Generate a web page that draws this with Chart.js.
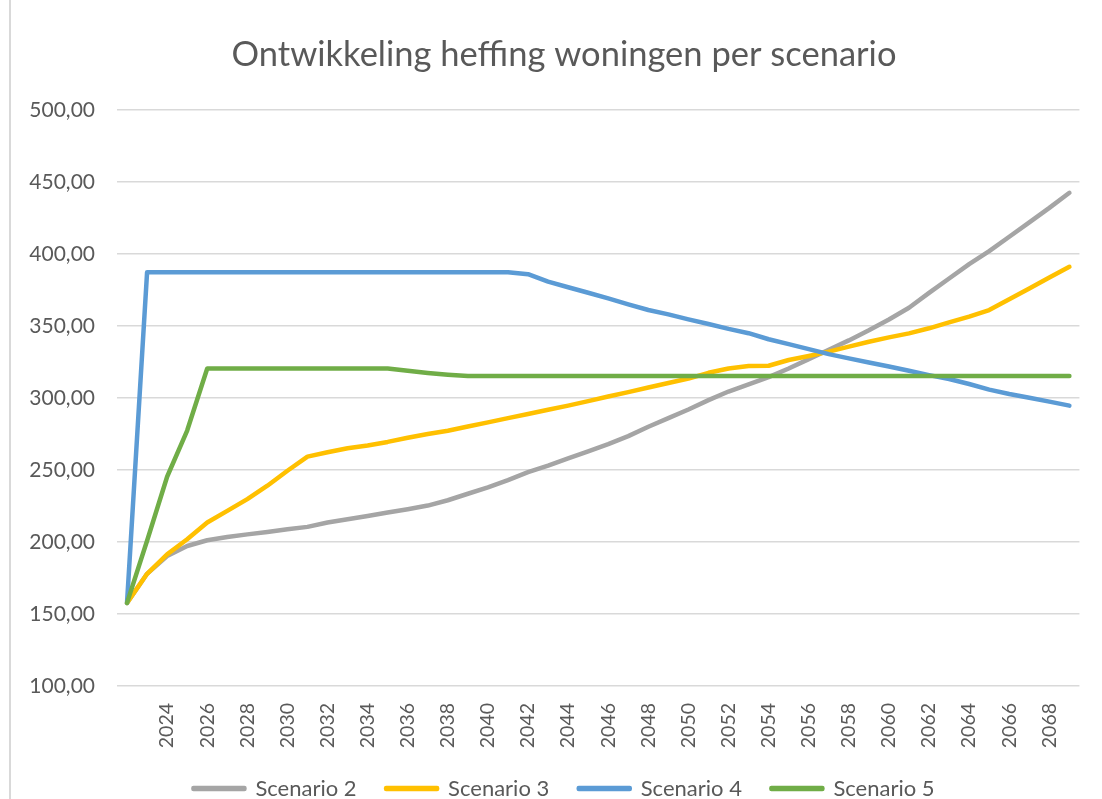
<!DOCTYPE html>
<html>
<head>
<meta charset="utf-8">
<title>Ontwikkeling heffing woningen per scenario</title>
<script src="https://cdn.jsdelivr.net/npm/chart.js"></script>
<style>
    html, body { margin: 0; padding: 0; background: #fff; }
    #wrap { position: relative; width: 1102px; height: 799px; }
    #rand { position: absolute; left: 9px; top: 0; width: 2px; height: 799px; background: #d9d9d9; }
</style>
</head>
<body>
<div id="wrap">
    <div id="rand"></div>
    <canvas id="grafiek"></canvas>
</div>
<script>
// Jaren op de x-as
const jaren = [2022, 2023, 2024, 2025, 2026, 2027, 2028, 2029, 2030, 2031, 2032, 2033,
    2034, 2035, 2036, 2037, 2038, 2039, 2040, 2041, 2042, 2043, 2044, 2045,
    2046, 2047, 2048, 2049, 2050, 2051, 2052, 2053, 2054, 2055, 2056, 2057,
    2058, 2059, 2060, 2061, 2062, 2063, 2064, 2065, 2066, 2067, 2068, 2069];

// Heffing per scenario
const scenario2 = [157.7, 177.9, 190.2, 197.2, 201.2, 203.5, 205.3, 207.0, 208.8, 210.5, 213.5, 215.8,
    218.1, 220.5, 222.8, 225.3, 229.0, 233.5, 238.0, 243.0, 248.5, 253.0, 258.0, 263.0,
    268.0, 273.5, 280.0, 286.0, 292.0, 298.5, 304.5, 309.5, 314.5, 320.5, 327.0, 333.5,
    340.0, 347.0, 354.5, 362.7, 373.0, 383.0, 393.0, 402.0, 412.0, 422.0, 432.0, 442.5];

const scenario3 = [157.7, 177.9, 191.4, 201.9, 213.5, 221.6, 229.8, 239.1, 249.5, 259.3, 262.3, 265.1,
    267.0, 269.5, 272.4, 275.0, 277.3, 280.2, 283.1, 286.0, 288.9, 291.8, 294.7, 297.8,
    301.0, 304.1, 307.3, 310.4, 313.5, 317.5, 320.5, 322.2, 322.4, 326.4, 329.2, 332.2,
    335.7, 339.1, 342.1, 344.9, 348.4, 352.5, 356.5, 361.1, 368.5, 376.1, 383.7, 391.1];

const scenario4 = [157.7, 387.3, 387.3, 387.3, 387.3, 387.3, 387.3, 387.3, 387.3, 387.3, 387.3, 387.3,
    387.3, 387.3, 387.3, 387.3, 387.3, 387.3, 387.3, 387.3, 386.0, 380.8, 376.9, 373.1,
    369.2, 365.0, 361.1, 358.1, 354.6, 351.4, 348.0, 345.0, 340.8, 337.4, 333.9, 330.5,
    327.5, 324.7, 321.9, 318.9, 315.9, 313.2, 309.7, 305.8, 302.8, 300.2, 297.5, 294.7];

const scenario5 = [157.7, 200.9, 245.3, 277.4, 320.5, 320.5, 320.5, 320.5, 320.5, 320.5, 320.5, 320.5,
    320.5, 320.5, 318.9, 317.4, 316.2, 315.3, 315.3, 315.3, 315.3, 315.3, 315.3, 315.3,
    315.3, 315.3, 315.3, 315.3, 315.3, 315.3, 315.3, 315.3, 315.3, 315.3, 315.3, 315.3,
    315.3, 315.3, 315.3, 315.3, 315.3, 315.3, 315.3, 315.3, 315.3, 315.3, 315.3, 315.3];

const tekstKleur = '#595959';

Chart.defaults.font.family = 'Lato, "Open Sans", sans-serif';
Chart.defaults.color = tekstKleur;

function lijn(label, data, kleur, volgorde) {
    return {
        label: label,
        data: data,
        borderColor: kleur,
        backgroundColor: kleur,
        borderWidth: 4.5,
        pointRadius: 0,
        pointHoverRadius: 0,
        tension: 0,
        borderCapStyle: 'round',
        borderJoinStyle: 'round',
        order: volgorde
    };
}

new Chart(document.getElementById('grafiek'), {
    type: 'line',
    data: {
        labels: jaren,
        datasets: [
            lijn('Scenario 2', scenario2, '#a5a5a5', 4),
            lijn('Scenario 3', scenario3, '#ffc000', 3),
            lijn('Scenario 4', scenario4, '#5b9bd5', 2),
            lijn('Scenario 5', scenario5, '#70ad47', 1)
        ]
    },
    options: {
        responsive: true,
        maintainAspectRatio: false,
        devicePixelRatio: 1,
        animation: false,
        layout: {
            padding: { left: 28, right: 2, top: 0, bottom: -10.5 }
        },
        plugins: {
            title: {
                display: true,
                text: 'Ontwikkeling heffing woningen per scenario',
                color: tekstKleur,
                font: { size: 34.5, weight: 'normal' },
                padding: { top: 34.3, bottom: 34.3 }
            },
            legend: {
                position: 'bottom',
                labels: {
                    boxWidth: 51,
                    boxHeight: 1,
                    padding: 29.5,
                    color: tekstKleur,
                    font: { size: 22 },
                    sort: (a, b) => a.datasetIndex - b.datasetIndex
                }
            },
            tooltip: { enabled: false }
        },
        scales: {
            x: {
                offset: true,
                grid: { display: false },
                border: { display: false },
                afterFit: function(scale) { scale.height = 62; },
                ticks: {
                    autoSkip: false,
                    minRotation: 90,
                    maxRotation: 90,
                    padding: 9,
                    font: { size: 19.5 },
                    callback: function(value, index) {
                        const jaar = jaren[index];
                        return (jaar % 2 === 0 && jaar >= 2024) ? String(jaar) : '';
                    }
                }
            },
            y: {
                min: 100,
                max: 500,
                border: { display: false },
                grid: { color: '#d9d9d9', lineWidth: 1.5, drawTicks: false },
                afterFit: function(scale) { scale.width = 89; },
                ticks: {
                    stepSize: 50,
                    padding: 22,
                    font: { size: 21 },
                    callback: function(value) {
                        return value.toFixed(2).replace('.', ',');
                    }
                }
            },
            // lege ruimte rechts van het plotgebied
            rechts: {
                type: 'linear',
                position: 'right',
                grid: { display: false },
                border: { display: false },
                ticks: { display: false },
                afterFit: function(scale) { scale.width = 17; }
            }
        }
    }
});
</script>
</body>
</html>
